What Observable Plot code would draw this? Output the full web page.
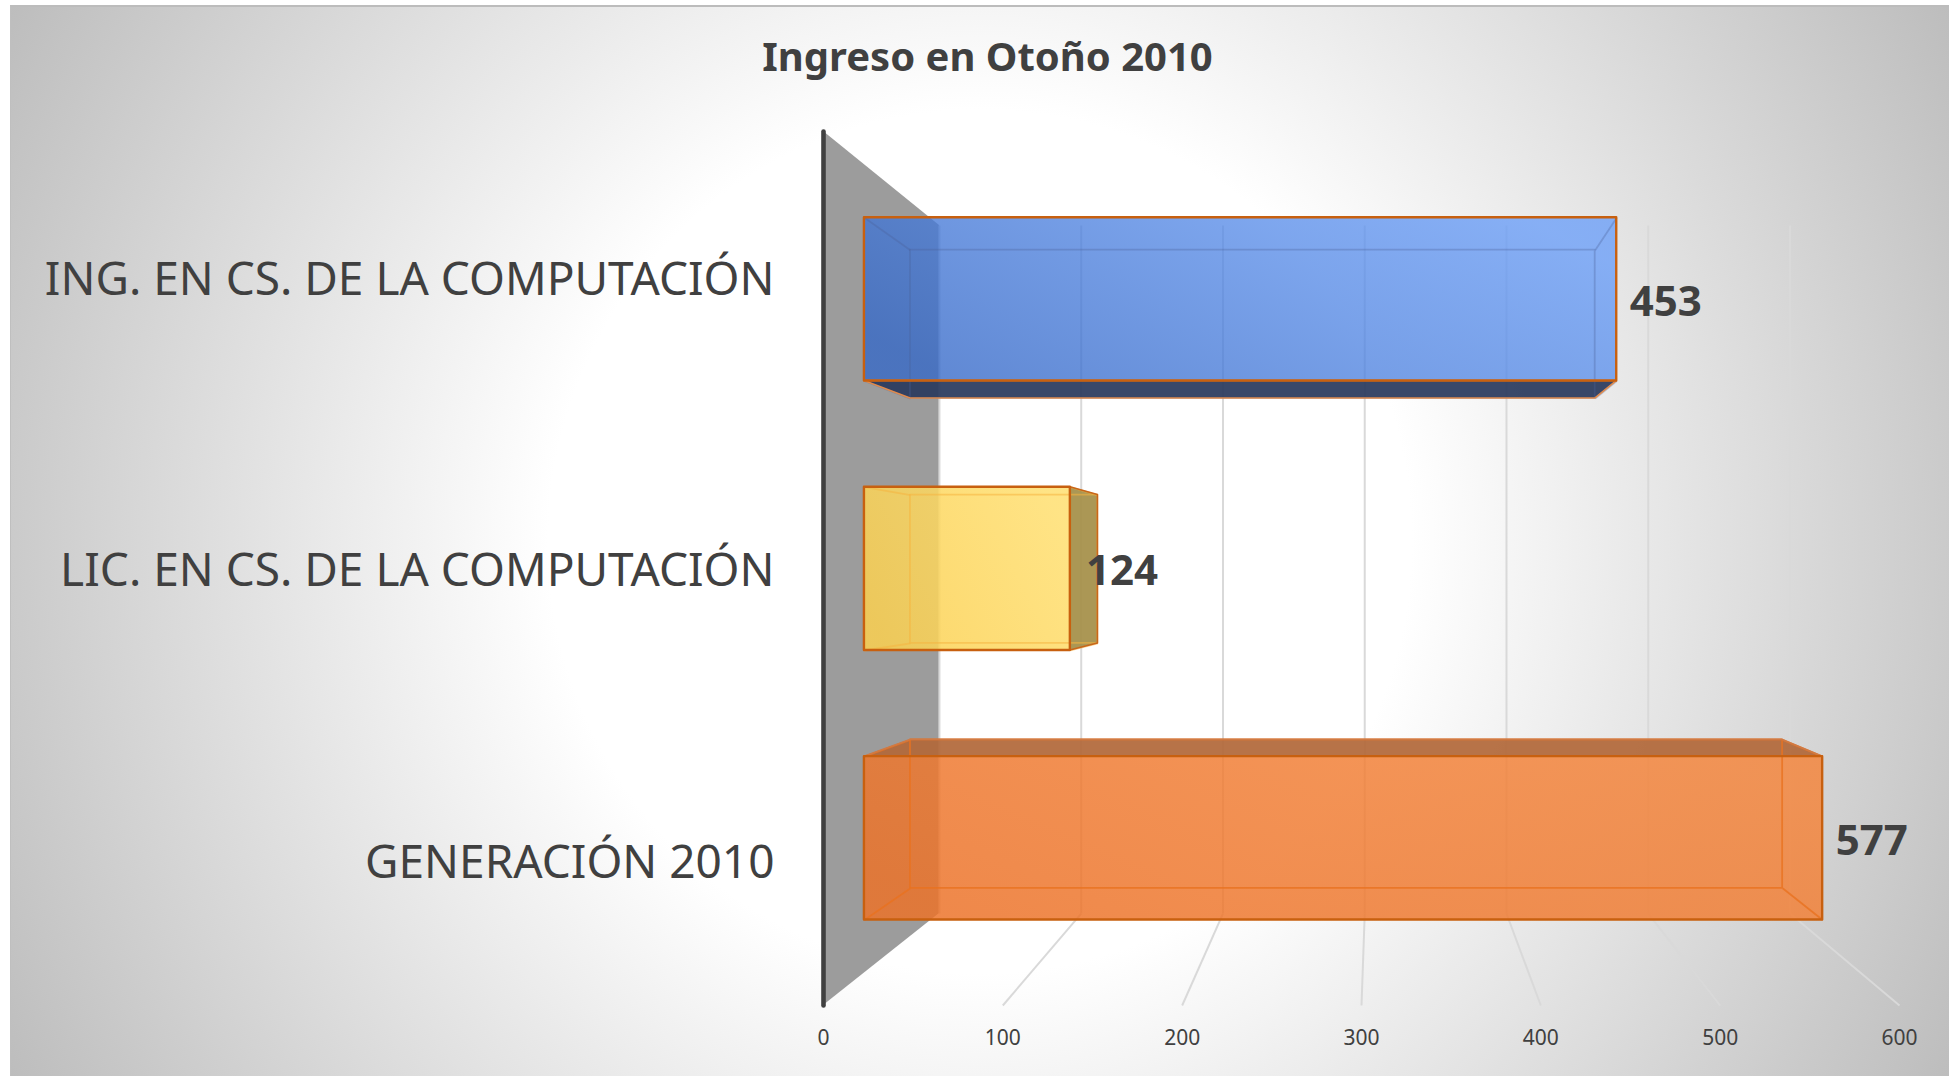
<!DOCTYPE html>
<html>
<head>
<meta charset="utf-8">
<script src="https://cdn.jsdelivr.net/npm/d3@7"></script>
<script src="https://cdn.jsdelivr.net/npm/@observablehq/plot@0.6"></script>
<style>
html,body{margin:0;padding:0;background:#fff;overflow:hidden;width:1949px;height:1076px}
#bg{position:absolute;left:10px;top:5px;width:1939px;height:1071px;box-sizing:border-box;
 border-top:2px solid #bcbcbc;border-left:1px solid #bfbfbf;
 background:radial-gradient(circle farthest-corner at 50% 50%,#fff 0%,#fff 39%,#bdbdbd 100%)}
#chart{position:absolute;left:0;top:0}
#chart svg{background:transparent}
</style>
</head>
<body>
<div id="bg"></div>
<div id="chart"></div>
<script>
const titleText = "Ingreso en Otoño 2010";
const categories = ["ING. EN CS. DE LA COMPUTACIÓN", "LIC. EN CS. DE LA COMPUTACIÓN", "GENERACIÓN 2010"];
const values = [453, 124, 577];
const ticks = [0, 100, 200, 300, 400, 500, 600];

const barStops = [["#3468c8", "#6a9ef8"], ["#fbd050", "#ffdf70"], ["#ec7228", "#f4853c"]];
const barOpacity = [0.78, 0.85, 0.84];
const darkFill = ["#2a3a5e", "#a58f48", "#b2683a"];
const darkEdge = ["#e08a4c", "#c8661a", "#d07a44"];
const innerStroke = ["#4a5f99", "#f5b540", "#e8721f"];
const innerOpacity = [0.32, 0.55, 0.8];
const edge = "#c8600f";
const labelShift = [0, 1.5, 0];

// Oblique 3-D box: data coordinates at a depth t (0 = front of the floor, 1 = back wall)
const shrinkX = 0.2095, shiftX = 64.66, shrinkY = 0.2126, shiftY = 0.3223;
const P = (v, u, t) => ({x: v * (1 - shrinkX * t) + shiftX * t, y: u * (1 - shrinkY * t) + shiftY * t});
const tFront = 0.353, tBack = 0.75, barPad = 0.197;

const quad = (a, b, c, d, options) => Plot.area(
  [{x1: a.x, y1: a.y, x2: d.x, y2: d.y}, {x1: b.x, y1: b.y, x2: c.x, y2: c.y}],
  {x1: "x1", y1: "y1", x2: "x2", y2: "y2", curve: "linear", ...options});

const defs = () => {
  const g = d3.create("svg:defs");
  barStops.forEach((s, i) => {
    const lg = g.append("linearGradient").attr("id", `bar${i}`)
      .attr("x1", 0).attr("y1", 0.7).attr("x2", 1).attr("y2", 0.3);
    lg.append("stop").attr("offset", "0%").attr("stop-color", s[0]);
    lg.append("stop").attr("offset", "100%").attr("stop-color", s[1]);
  });
  return g.node();
};

const barMarks = values.flatMap((v, i) => {
  const u0 = i + barPad, u1 = i + 1 - barPad;
  const fTL = P(0, u0, tFront), fTR = P(v, u0, tFront), fBR = P(v, u1, tFront), fBL = P(0, u1, tFront);
  const bTL = P(0, u0, tBack), bTR = P(v, u0, tBack), bBR = P(v, u1, tBack), bBL = P(0, u1, tBack);
  const outer = [];
  if (bBL.y > fBL.y) outer.push([fBL, fBR, bBR, bBL]);
  if (bTL.y < fTL.y) outer.push([fTL, fTR, bTR, bTL]);
  if (bTR.x > fTR.x) outer.push([fTR, bTR, bBR, fBR]);
  const out = outer.map(q => quad(...q, {fill: darkFill[i], fillOpacity: 0.93}));
  out.push(quad(fTL, fTR, fBR, fBL, {fill: `url(#bar${i})`, fillOpacity: barOpacity[i]}));
  const inner = {fill: "none", stroke: innerStroke[i], strokeWidth: 1.8, strokeOpacity: innerOpacity[i]};
  out.push(quad(bTL, bTR, bBR, bBL, inner));
  out.push(Plot.link([[fTL, bTL], [fTR, bTR], [fBR, bBR], [fBL, bBL]], {
    x1: d => d[0].x, y1: d => d[0].y, x2: d => d[1].x, y2: d => d[1].y, ...inner
  }));
  outer.forEach(q => out.push(quad(...q, {fill: "none", stroke: darkEdge[i], strokeWidth: 1.6})));
  out.push(quad(fTL, fTR, fBR, fBL, {fill: "none", stroke: edge, strokeWidth: 2.4}));
  return out;
});

const wall = quad(P(0, 0, 0), P(0, 0, 1), P(0, 3, 1), P(0, 3, 0), {fill: "#9c9c9c"});
const gridBack = ticks.map(t => [P(t, 0, 1), P(t, 3, 1)]);
const gridFloor = ticks.slice(1).map(t => [P(t, 3, 1), P(t, 3, 0)]);

const plot = Plot.plot({
  width: 1949, height: 1076,
  marginLeft: 823, marginRight: 50, marginTop: 131, marginBottom: 71,
  x: {type: "linear", domain: [0, 600]},
  y: {type: "linear", domain: [0, 3], reverse: true, axis: null},
  style: {fontFamily: "'Noto Sans', sans-serif", background: "transparent", overflow: "visible"},
  marks: [
    defs,
    wall,
    Plot.link([...gridBack, ...gridFloor], {
      x1: d => d[0].x, y1: d => d[0].y, x2: d => d[1].x, y2: d => d[1].y,
      stroke: "#d9d9d9", strokeWidth: 2
    }),
    Plot.link([[P(0, 0, 0), P(0, 3, 0)]], {
      x1: d => d[0].x, y1: d => d[0].y, x2: d => d[1].x, y2: d => d[1].y,
      stroke: "#404040", strokeWidth: 4.6, strokeLinecap: "round"
    }),
    ...barMarks,
    Plot.axisX({ticks, tickSize: 0, tickPadding: 25, fontSize: 21, fill: "#404040", label: null, anchor: "bottom", tickFormat: d => `${d}`}),
    Plot.text(categories, {
      x: () => 0, y: (d, i) => i + 0.5, text: d => d, dx: -49, dy: 3,
      textAnchor: "end", fontSize: 46, fill: "#404040"
    }),
    Plot.text(values, {
      x: (d, i) => P(d, 0, tFront).x + labelShift[i], y: (d, i) => P(0, i + 0.5, tFront).y, text: d => `${d}`,
      dx: 13, dy: 3, textAnchor: "start", fontSize: 42, fontWeight: 700, fill: "#404040"
    }),
    Plot.text([titleText], {
      frameAnchor: "top", dx: -374, dy: -73, lineAnchor: "middle", fontSize: 40, fontWeight: 700, fill: "#404040"
    })
  ]
});
document.getElementById("chart").appendChild(plot);
</script>
</body>
</html>
